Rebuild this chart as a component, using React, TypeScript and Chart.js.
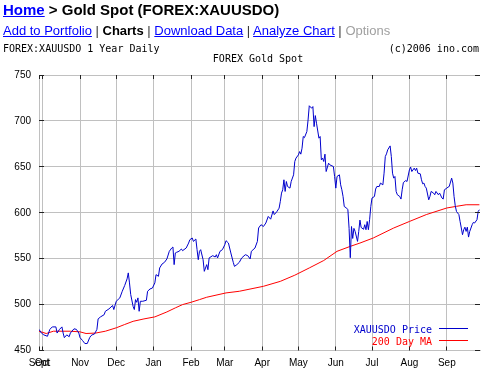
import React, { useEffect, useRef } from "react";
import { Chart, registerables } from "chart.js";

Chart.register(...registerables);

// Day index: days counted from Sep 27, 2005
const monthTickDays = [1, 4, 35, 65, 96, 127, 155, 186, 216, 247, 277, 308, 339];
const monthLabels = ["Sept", "Oct", "Nov", "Dec", "Jan", "Feb", "Mar", "Apr", "May", "Jun", "Jul", "Aug", "Sep"];

const priceDays = [
  1, 3, 5, 8, 10, 12, 15, 16, 18, 20, 21, 22, 24, 26, 27, 30, 32, 34, 35, 37, 39, 41, 43, 44, 45, 47, 49, 50,
  52, 55, 56, 59, 62, 63, 65, 68, 70, 72, 74, 75, 76, 77, 79, 80, 81, 82, 83, 84, 85, 87, 90, 91, 93, 95, 97,
  98, 100, 101, 103, 105, 107, 109, 111, 112, 113, 114, 115, 117, 119, 120, 123, 125, 126, 128, 129, 131, 132,
  133, 134, 135, 137, 138, 140, 141, 142, 145, 147, 148, 149, 151, 153, 155, 156, 158, 160, 162, 163, 165, 167,
  169, 172, 174, 176, 177, 180, 182, 183, 185, 187, 189, 191, 193, 195, 196, 198, 200, 201, 202, 203, 204, 205,
  206, 207, 209, 210, 212, 213, 214, 216, 217, 218, 219, 220, 221, 223, 224, 225, 227, 228, 229, 230, 231, 233,
  234, 235, 236, 237, 238, 239, 241, 242, 245, 246, 247, 248, 250, 251, 252, 253, 254, 256, 257, 258, 259, 260,
  261, 262, 263, 265, 266, 267, 268, 270, 271, 272, 273, 274, 275, 276, 277, 279, 280, 281, 283, 284, 286, 287,
  288, 289, 290, 292, 293, 294, 295, 296, 297, 298, 300, 301, 302, 303, 305, 306, 308, 309, 310, 312, 313, 314,
  315, 317, 318, 319, 320, 321, 322, 324, 325, 326, 328, 329, 330, 332, 333, 335, 336, 337, 339, 340, 341, 343,
  344, 345, 346, 347, 349, 350, 351, 352, 353, 354, 355, 356, 357, 358, 360, 361, 362, 364, 365, 366,
];
const priceValues = [
  473, 469, 467, 465.5, 473, 475.7, 475.7, 469, 473, 475.7, 469, 464, 467, 465, 469, 473.6, 473, 469, 464, 461,
  457.6, 457.6, 464, 466, 467, 468, 473, 484.4, 486.6, 489, 492.7, 495.3, 499, 494.6, 503.6, 507.3, 514.5, 520.7,
  528, 534.5, 523.6, 511, 498, 494.6, 505.4, 502.5, 507.3, 492.7, 503.6, 503.6, 504.7, 514.5, 517, 518, 523.6,
  532.6, 530.8, 539.9, 544.2, 546, 549.7, 558, 561.6, 562.7, 543.5, 556.2, 556.9, 558, 560.5, 558.7, 561.6, 567,
  570.6, 572.5, 568.8, 571.4, 559.8, 548.9, 558, 559.8, 548.9, 536.2, 543.5, 538, 550.8, 553.3, 551.8, 554.3,
  550.8, 558, 559.8, 565.2, 569.6, 567, 556.2, 546, 541.6, 543.5, 546, 550.8, 554.3, 553.3, 549.7, 558, 561.6,
  568.8, 583.4, 587, 585, 588.8, 596, 593, 602, 598, 601, 605, 612.4, 621.4, 625, 635.9, 623.2, 634, 628.6,
  626.8, 634, 641.3, 655.8, 659.5, 663, 666.6, 663.8, 670.3, 683, 681.8, 688.4, 701, 716.5, 713.8, 715.6, 693.8,
  705.8, 697.5, 681.2, 683, 657.6, 659.5, 655.8, 663.8, 644.9, 654, 652.2, 650.3, 639.5, 626.8, 639.5, 641.3,
  630.4, 625, 617.7, 606.8, 605, 603.3, 583, 551, 585, 572, 583, 579.7, 568.8, 579.7, 592, 584, 582, 587, 581.5,
  590.5, 581.5, 592.4, 606.8, 616, 617.7, 625.8, 628.6, 628.6, 632.3, 630.4, 643.1, 661.2, 664.1, 668.5, 672.8,
  661.2, 643.1, 637.7, 639.5, 623.2, 619.6, 617.7, 614.9, 625, 632.9, 635.1, 634, 646.7, 649.7, 644.9, 648.6,
  646, 648.6, 643.1, 642.4, 635.9, 631.5, 632.3, 628.6, 626.8, 614.1, 617.7, 623.2, 621.4, 619.6, 623.2, 619.6,
  621.4, 616, 614.9, 625, 626.8, 627.9, 628.6, 637.7, 632.3, 617.7, 607.6, 601.4, 598, 590.5, 583.4, 576.1,
  581.5, 584.3, 579.7, 584.3, 573.5, 579.7, 587, 589.5, 588.8, 592.4, 601.4, 603.3,
];

const maDays = [1, 7, 13, 27, 35, 40, 48, 56, 65, 72, 79, 88, 97, 107, 114, 120, 127, 134, 140, 156, 167, 187, 201, 213, 225, 237, 248, 259, 267, 278, 295, 308, 322, 339, 347, 355, 366];
const maValues = [471, 468.5, 471, 471, 470.3, 468.5, 469, 471, 474.7, 478.3, 481.8, 484.4, 486.6, 492, 496.4, 500, 502.5, 505.4, 508, 512.7, 514.5, 519.9, 525.3, 532, 539.9, 548, 558, 563.4, 567, 572.5, 583.4, 590.5, 598, 605.2, 607, 608.7, 608.7];

const seriesLabels = ["XAUUSDO Price", "200 Day MA"];
const seriesColors = ["#0000cc", "#ff0000"];

const SANS = '"Liberation Sans", Arial, Helvetica, sans-serif';
const MONO = '"DejaVu Sans Mono", monospace';

const align = (p: number) => Math.round(p - 0.5) + 0.5;

const decorPlugin = {
  id: "decor",
  afterDraw(chart: any) {
    const { ctx, chartArea: a, scales } = chart;
    ctx.save();
    // inner tick marks on all four sides
    ctx.strokeStyle = "#222";
    ctx.lineWidth = 1;
    ctx.beginPath();
    scales.x.ticks.forEach((t: any) => {
      const px = align(scales.x.getPixelForValue(t.value));
      ctx.moveTo(px, a.bottom);
      ctx.lineTo(px, a.bottom - 4);
      ctx.moveTo(px, a.top);
      ctx.lineTo(px, a.top + 4);
    });
    scales.y.ticks.forEach((t: any) => {
      const py = align(scales.y.getPixelForValue(t.value));
      ctx.moveTo(a.left, py);
      ctx.lineTo(a.left + 5, py);
      ctx.moveTo(a.right, py);
      ctx.lineTo(a.right - 5, py);
    });
    ctx.stroke();

    // header texts
    ctx.font = `10px ${MONO}`;
    ctx.fillStyle = "#000";
    ctx.textBaseline = "alphabetic";
    ctx.textAlign = "left";
    ctx.fillText("FOREX:XAUUSDO 1 Year Daily", 3, 52);
    ctx.textAlign = "right";
    ctx.fillText("(c)2006 ino.com", 479, 52);
    ctx.textAlign = "center";
    ctx.fillText("FOREX Gold Spot", 258, 62);

    // legend
    const rows = [a.bottom - 17.5, a.bottom - 5.5];
    chart.data.datasets.forEach((ds: any, i: number) => {
      const base = rows[i];
      ctx.fillStyle = ds.borderColor;
      ctx.textAlign = "right";
      ctx.fillText(ds.label, a.right - 48, base);
      ctx.strokeStyle = ds.borderColor;
      ctx.beginPath();
      const ly = Math.round(base - 5) + 0.5;
      ctx.moveTo(a.right - 41, ly);
      ctx.lineTo(a.right - 12, ly);
      ctx.stroke();
    });
    ctx.restore();
  },
};

export default function App() {
  const ref = useRef<HTMLCanvasElement>(null);

  useEffect(() => {
    if (!ref.current) return;
    const chart = new Chart(ref.current, {
      type: "line",
      data: {
        datasets: [
          {
            label: seriesLabels[0],
            data: priceDays.map((d, i) => ({ x: d, y: priceValues[i] })),
            borderColor: seriesColors[0],
            borderWidth: 1,
            pointRadius: 0,
            tension: 0,
            fill: false,
          },
          {
            label: seriesLabels[1],
            data: maDays.map((d, i) => ({ x: d, y: maValues[i] })),
            borderColor: seriesColors[1],
            borderWidth: 1,
            pointRadius: 0,
            tension: 0,
            fill: false,
          },
        ],
      },
      options: {
        animation: false,
        responsive: false,
        devicePixelRatio: 1,
        layout: { padding: { top: 75, right: 5, left: 0, bottom: 0 } },
        plugins: {
          legend: { display: false },
          tooltip: { enabled: false },
          title: { display: false },
        },
        scales: {
          x: {
            type: "linear",
            min: 1,
            max: 366.5,
            afterBuildTicks: (s: any) => {
              s.ticks = monthTickDays.map((v) => ({ value: v }));
            },
            afterFit: (s: any) => {
              s.height = 20.5;
            },
            ticks: {
              autoSkip: false,
              maxRotation: 0,
              minRotation: 0,
              padding: 7,
              color: "#000",
              font: { family: SANS, size: 10 },
              callback: (_v: any, i: number) => monthLabels[i],
            },
            grid: { color: "#c0c0c0", lineWidth: 1, drawTicks: false },
            border: { color: "#c0c0c0" },
          },
          y: {
            min: 450,
            max: 750,
            afterFit: (s: any) => {
              s.width = 39;
            },
            ticks: {
              stepSize: 50,
              padding: 8,
              color: "#000",
              font: { family: SANS, size: 10 },
            },
            grid: { color: "#c0c0c0", lineWidth: 1, drawTicks: false },
            border: { color: "#c0c0c0" },
          },
        },
      },
      plugins: [decorPlugin],
    });
    return () => chart.destroy();
  }, []);

  const link = { color: "#0000ff", textDecoration: "underline" };
  return (
    <div style={{ position: "fixed", left: 0, top: 0, width: 485, height: 371, background: "#fff", overflow: "hidden" }}>
      <canvas ref={ref} width={485} height={371} style={{ position: "absolute", left: 0, top: 0, width: 485, height: 371 }} />
      <div
        style={{
          position: "absolute",
          left: 3,
          top: 1,
          font: `bold 15px ${SANS}`,
          lineHeight: "18px",
          whiteSpace: "nowrap",
          color: "#000",
        }}
      >
        <span style={link}>Home</span> &gt; Gold Spot (FOREX:XAUUSDO)
      </div>
      <div
        style={{
          position: "absolute",
          left: 3,
          top: 23,
          font: `13px ${SANS}`,
          lineHeight: "16px",
          whiteSpace: "nowrap",
          color: "#333",
        }}
      >
        <span style={link}>Add to Portfolio</span> | <b style={{ color: "#000" }}>Charts</b> |{" "}
        <span style={link}>Download Data</span> | <span style={link}>Analyze Chart</span> |{" "}
        <span style={{ color: "#a0a0a0" }}>Options</span>
      </div>
    </div>
  );
}
